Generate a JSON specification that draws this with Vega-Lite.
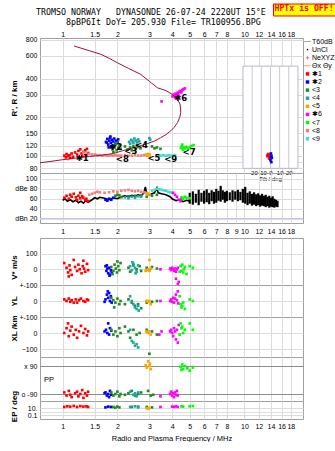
{
"$schema":"https://vega.github.io/schema/vega-lite/v6.json",
"padding":{"left":9,"top":3,"right":0,"bottom":0},
"title":{"text":"TROMSO NORWAY\u00a0\u00a0\u00a0DYNASONDE 26-07-24 2220UT 15°E","anchor":"start","frame":"group","dx":-4,"offset":-13.5},
"datasets":{
"prof":[{"f":0.75,"v":88},{"f":0.85,"v":90},{"f":1.0,"v":93},{"f":1.06,"v":94},{"f":1.2,"v":96},{"f":1.4,"v":98.5},{"f":1.62,"v":100.5},{"f":1.9,"v":104},{"f":2.27,"v":112},{"f":2.6,"v":118},{"f":2.92,"v":124},{"f":3.2,"v":130},{"f":3.46,"v":138},{"f":3.7,"v":146},{"f":3.93,"v":156},{"f":4.1,"v":166},{"f":4.28,"v":181},{"f":4.4,"v":198},{"f":4.46,"v":216},{"f":4.45,"v":235},{"f":4.42,"v":252},{"f":4.3,"v":272},{"f":4.01,"v":301},{"f":3.7,"v":322},{"f":3.32,"v":339},{"f":3.0,"v":380},{"f":2.69,"v":431},{"f":2.3,"v":480},{"f":2.0,"v":531},{"f":1.8,"v":576},{"f":1.62,"v":619},{"f":1.4,"v":660},{"f":1.154,"v":718}],
"H":[
{"c":"✱1","f":1.02,"v":100},{"c":"✱1","f":1.04,"v":97},{"c":"✱1","f":1.05,"v":103},{"c":"✱1","f":1.07,"v":99},{"c":"✱1","f":1.09,"v":101},{"c":"✱1","f":1.1,"v":96},{"c":"✱1","f":1.12,"v":104},{"c":"✱1","f":1.14,"v":98},{"c":"✱1","f":1.17,"v":106},{"c":"✱1","f":1.2,"v":102},{"c":"✱1","f":1.22,"v":109},{"c":"✱1","f":1.25,"v":112},{"c":"✱1","f":1.27,"v":104},{"c":"✱1","f":1.28,"v":99},{"c":"✱1","f":1.3,"v":107},{"c":"✱1","f":1.33,"v":110},{"c":"✱1","f":1.35,"v":101},{"c":"✱1","f":1.36,"v":113},{"c":"✱1","f":1.38,"v":105},
{"c":"<8","f":1.3,"v":106},{"c":"<8","f":1.35,"v":104},{"c":"<8","f":1.4,"v":103},{"c":"<8","f":1.45,"v":102},{"c":"<8","f":1.5,"v":102},{"c":"<8","f":1.55,"v":101},{"c":"<8","f":1.6,"v":101},{"c":"<8","f":1.65,"v":100},{"c":"<8","f":1.7,"v":101},{"c":"<8","f":1.75,"v":100},{"c":"<8","f":1.8,"v":100},{"c":"<8","f":1.85,"v":101},{"c":"<8","f":1.9,"v":100},{"c":"<8","f":1.95,"v":101},{"c":"<8","f":2.0,"v":100},{"c":"<8","f":2.05,"v":100},{"c":"<8","f":2.1,"v":100},{"c":"<8","f":2.2,"v":101},{"c":"<8","f":2.3,"v":100},{"c":"<8","f":2.4,"v":100},{"c":"<8","f":2.5,"v":101},{"c":"<8","f":2.6,"v":100},{"c":"<8","f":2.7,"v":100},{"c":"<8","f":2.8,"v":101},{"c":"<8","f":2.9,"v":100},
{"c":"<9","f":3.35,"v":100},{"c":"<9","f":3.45,"v":100},{"c":"<9","f":3.55,"v":101},{"c":"<9","f":3.65,"v":100},{"c":"<9","f":3.75,"v":100},{"c":"<9","f":3.85,"v":101},{"c":"<9","f":3.95,"v":100},{"c":"<9","f":4.05,"v":100},{"c":"<9","f":4.15,"v":101},
{"c":"✱2","f":1.73,"v":128},{"c":"✱2","f":1.76,"v":135},{"c":"✱2","f":1.78,"v":122},{"c":"✱2","f":1.8,"v":131},{"c":"✱2","f":1.82,"v":138},{"c":"✱2","f":1.84,"v":126},{"c":"✱2","f":1.86,"v":133},{"c":"✱2","f":1.88,"v":120},{"c":"✱2","f":1.9,"v":129},{"c":"✱2","f":1.92,"v":136},{"c":"✱2","f":1.95,"v":124},{"c":"✱2","f":1.97,"v":131},{"c":"✱2","f":2.0,"v":127},{"c":"✱2","f":1.79,"v":116},{"c":"✱2","f":1.85,"v":118},{"c":"✱2","f":2.02,"v":134},{"c":"✱2","f":1.75,"v":126},{"c":"✱2","f":1.83,"v":141},{"c":"✱2","f":1.93,"v":119},
{"c":"<3","f":1.88,"v":112},{"c":"<3","f":1.92,"v":118},{"c":"<3","f":1.95,"v":122},{"c":"<3","f":1.98,"v":110},{"c":"<3","f":2.02,"v":115},{"c":"<3","f":2.05,"v":120},{"c":"<3","f":2.08,"v":113},{"c":"<3","f":2.2,"v":118},{"c":"<3","f":2.28,"v":112},{"c":"<3","f":2.35,"v":116},{"c":"<3","f":2.45,"v":119},{"c":"<3","f":2.52,"v":113},{"c":"<3","f":2.6,"v":117},{"c":"<3","f":2.68,"v":114},{"c":"<3","f":3.1,"v":118},{"c":"<3","f":3.2,"v":114},{"c":"<3","f":3.3,"v":116},{"c":"<3","f":3.45,"v":113},{"c":"<3","f":2.0,"v":126},{"c":"<3","f":1.9,"v":107},{"c":"<3","f":2.4,"v":110},{"c":"<3","f":2.56,"v":121},
{"c":"<4","f":2.32,"v":128},{"c":"<4","f":2.38,"v":133},{"c":"<4","f":2.42,"v":130},{"c":"<4","f":2.48,"v":136},{"c":"<4","f":2.52,"v":131},{"c":"<4","f":2.56,"v":127},{"c":"<4","f":2.6,"v":134},{"c":"<4","f":2.64,"v":129},{"c":"<4","f":2.35,"v":124},{"c":"<4","f":3.0,"v":137},{"c":"<4","f":3.03,"v":133},{"c":"<4","f":2.45,"v":126},
{"c":"<5","f":2.88,"v":102},{"c":"<5","f":2.92,"v":101},{"c":"<5","f":2.96,"v":103},{"c":"<5","f":3.0,"v":100},{"c":"<5","f":3.02,"v":102},
{"c":"✱6","f":4.02,"v":290},{"c":"✱6","f":4.08,"v":300},{"c":"✱6","f":4.12,"v":295},{"c":"✱6","f":4.18,"v":305},{"c":"✱6","f":4.22,"v":298},{"c":"✱6","f":4.28,"v":310},{"c":"✱6","f":4.32,"v":302},{"c":"✱6","f":4.38,"v":315},{"c":"✱6","f":4.45,"v":320},{"c":"✱6","f":4.5,"v":312},{"c":"✱6","f":4.55,"v":325},{"c":"✱6","f":4.62,"v":330},{"c":"✱6","f":4.7,"v":335},{"c":"✱6","f":4.35,"v":292},{"c":"✱6","f":4.15,"v":285},{"c":"✱6","f":3.5,"v":265},{"c":"✱6","f":4.25,"v":282},
{"c":"<7","f":4.47,"v":115},{"c":"<7","f":4.52,"v":118},{"c":"<7","f":4.58,"v":113},{"c":"<7","f":4.65,"v":116},{"c":"<7","f":4.72,"v":114},{"c":"<7","f":4.8,"v":117},{"c":"<7","f":4.9,"v":113},{"c":"<7","f":5.0,"v":116},{"c":"<7","f":5.1,"v":119},{"c":"<7","f":5.25,"v":121},{"c":"<7","f":4.55,"v":122},{"c":"<7","f":4.6,"v":111},
{"c":"UnCl","f":1.22,"v":97},{"c":"UnCl","f":1.27,"v":100},{"c":"UnCl","f":1.31,"v":98},
{"c":"NeXYZ","f":1.07,"v":93},{"c":"NeXYZ","f":1.25,"v":94}],
"lab":[{"t":"✱1","f":1.28,"v":96},{"t":"✱2","f":1.96,"v":117},{"t":"<3","f":2.37,"v":109},{"t":"<4","f":2.71,"v":122},{"t":"<5","f":3.18,"v":95},{"t":"✱6","f":4.46,"v":283},{"t":"<7","f":4.96,"v":107},{"t":"<8","f":2.13,"v":94},{"t":"<9","f":3.93,"v":94}],
"tilt":[{"c":"✱1","t":-3,"v":99},{"c":"✱1","t":-2,"v":101},{"c":"✱1","t":-1,"v":97},{"c":"✱1","t":-3.5,"v":100},{"c":"✱1","t":-2.5,"v":103},{"c":"✱1","t":-1.5,"v":95},{"c":"✱2","t":0.5,"v":104},{"c":"✱2","t":1,"v":100},{"c":"✱2","t":1.5,"v":96},{"c":"✱2","t":0,"v":92},{"c":"✱2","t":1,"v":89},{"c":"✱2","t":0.5,"v":98}],
"dBl":[{"f":1.0,"v":57},{"f":1.03,"v":60},{"f":1.06,"v":55},{"f":1.1,"v":58},{"f":1.14,"v":54},{"f":1.18,"v":57},{"f":1.22,"v":52},{"f":1.26,"v":55},{"f":1.3,"v":51},{"f":1.34,"v":56},{"f":1.38,"v":53},{"f":1.45,"v":58},{"f":1.5,"v":62},{"f":1.55,"v":60},{"f":1.6,"v":63},{"f":1.7,"v":61},{"f":1.8,"v":58},{"f":1.9,"v":62},{"f":2.0,"v":60},{"f":2.1,"v":64},{"f":2.2,"v":66},{"f":2.3,"v":64},{"f":2.4,"v":67},{"f":2.5,"v":65},{"f":2.6,"v":68},{"f":2.7,"v":66},{"f":2.8,"v":72},{"f":2.85,"v":84},{"f":2.9,"v":70},{"f":3.0,"v":68},{"f":3.1,"v":70},{"f":3.2,"v":72},{"f":3.3,"v":82},{"f":3.35,"v":72},{"f":3.5,"v":70},{"f":3.7,"v":68},{"f":3.9,"v":64},{"f":4.0,"v":60},{"f":4.2,"v":56},{"f":4.4,"v":58},{"f":4.6,"v":54},{"f":4.8,"v":57},{"f":5.0,"v":55}],
"dBr":[{"f":5.0,"lo":50,"hi":72},{"f":5.2,"lo":48,"hi":75},{"f":5.4,"lo":52,"hi":70},{"f":5.6,"lo":47,"hi":78},{"f":5.8,"lo":54,"hi":72},{"f":6.0,"lo":50,"hi":76},{"f":6.2,"lo":53,"hi":79},{"f":6.4,"lo":49,"hi":72},{"f":6.6,"lo":55,"hi":77},{"f":6.8,"lo":50,"hi":74},{"f":7.0,"lo":52,"hi":80},{"f":7.2,"lo":56,"hi":76},{"f":7.4,"lo":54,"hi":86},{"f":7.6,"lo":58,"hi":77},{"f":7.8,"lo":52,"hi":74},{"f":8.0,"lo":55,"hi":76},{"f":8.3,"lo":57,"hi":73},{"f":8.6,"lo":54,"hi":77},{"f":8.9,"lo":58,"hi":75},{"f":9.2,"lo":55,"hi":78},{"f":9.5,"lo":57,"hi":74},{"f":9.8,"lo":52,"hi":80},{"f":10.1,"lo":50,"hi":84},{"f":10.4,"lo":47,"hi":72},{"f":10.7,"lo":50,"hi":75},{"f":11.0,"lo":46,"hi":70},{"f":11.3,"lo":48,"hi":73},{"f":11.6,"lo":45,"hi":69},{"f":11.9,"lo":47,"hi":71},{"f":12.2,"lo":44,"hi":67},{"f":12.5,"lo":46,"hi":70},{"f":12.8,"lo":45,"hi":66},{"f":13.1,"lo":43,"hi":68},{"f":13.4,"lo":45,"hi":64},{"f":13.7,"lo":42,"hi":66},{"f":14.0,"lo":44,"hi":62},{"f":14.3,"lo":43,"hi":65},{"f":14.6,"lo":42,"hi":60},{"f":14.9,"lo":44,"hi":58},{"f":15.2,"lo":43,"hi":56}],
"dB":[{"c":"✱1","f":1.02,"v":62},{"c":"✱1","f":1.05,"v":66},{"c":"✱1","f":1.08,"v":60},{"c":"✱1","f":1.1,"v":68},{"c":"✱1","f":1.12,"v":64},{"c":"✱1","f":1.15,"v":70},{"c":"✱1","f":1.18,"v":63},{"c":"✱1","f":1.2,"v":58},{"c":"✱1","f":1.22,"v":66},{"c":"✱1","f":1.25,"v":61},{"c":"✱1","f":1.28,"v":65},{"c":"✱1","f":1.3,"v":62},{"c":"✱1","f":1.33,"v":57},{"c":"✱1","f":1.35,"v":60},{"c":"✱1","f":1.38,"v":55},{"c":"✱1","f":1.25,"v":72},
{"c":"<8","f":1.4,"v":68},{"c":"<8","f":1.45,"v":70},{"c":"<8","f":1.5,"v":72},{"c":"<8","f":1.55,"v":74},{"c":"<8","f":1.6,"v":73},{"c":"<8","f":1.7,"v":72},{"c":"<8","f":1.8,"v":73},{"c":"<8","f":1.9,"v":75},{"c":"<8","f":2.0,"v":74},{"c":"<8","f":2.1,"v":76},{"c":"<8","f":2.2,"v":77},{"c":"<8","f":2.3,"v":78},{"c":"<8","f":2.4,"v":76},{"c":"<8","f":2.5,"v":75},{"c":"<8","f":2.6,"v":76},{"c":"<8","f":2.7,"v":74},{"c":"<8","f":2.8,"v":73},{"c":"<8","f":2.9,"v":72},
{"c":"✱2","f":1.72,"v":58},{"c":"✱2","f":1.76,"v":56},{"c":"✱2","f":1.8,"v":60},{"c":"✱2","f":1.85,"v":58},{"c":"✱2","f":1.9,"v":62},
{"c":"<3","f":1.95,"v":66},{"c":"<3","f":2.0,"v":68},{"c":"<3","f":2.05,"v":67},{"c":"<3","f":2.1,"v":63},{"c":"<3","f":2.3,"v":65},{"c":"<3","f":2.5,"v":66},{"c":"<3","f":2.7,"v":67},{"c":"<3","f":2.9,"v":64},{"c":"<3","f":3.1,"v":66},{"c":"<3","f":3.3,"v":68},
{"c":"<4","f":2.2,"v":63},{"c":"<4","f":2.3,"v":61},{"c":"<4","f":2.4,"v":64},{"c":"<4","f":2.5,"v":62},{"c":"<4","f":2.6,"v":65},{"c":"<4","f":2.7,"v":64},
{"c":"<5","f":2.9,"v":70},{"c":"<5","f":2.95,"v":71},{"c":"<5","f":3.0,"v":69},
{"c":"<9","f":3.1,"v":76},{"c":"<9","f":3.2,"v":78},{"c":"<9","f":3.3,"v":80},{"c":"<9","f":3.4,"v":79},{"c":"<9","f":3.5,"v":78},{"c":"<9","f":3.6,"v":77},{"c":"<9","f":3.7,"v":76},{"c":"<9","f":3.8,"v":74},{"c":"<9","f":3.9,"v":73},{"c":"<9","f":4.0,"v":72},
{"c":"✱6","f":4.05,"v":72},{"c":"✱6","f":4.15,"v":68},{"c":"✱6","f":4.25,"v":64},{"c":"✱6","f":4.35,"v":58},{"c":"✱6","f":4.45,"v":55},{"c":"✱6","f":4.5,"v":60},
{"c":"<7","f":4.5,"v":63},{"c":"<7","f":4.6,"v":60},{"c":"<7","f":4.7,"v":64},{"c":"<7","f":4.8,"v":62},{"c":"<7","f":5.0,"v":61}],
"VS":[{"c":"✱1","f":1.02,"v":40},{"c":"✱1","f":1.05,"v":10},{"c":"✱1","f":1.07,"v":-20},{"c":"✱1","f":1.09,"v":25},{"c":"✱1","f":1.1,"v":-5},{"c":"✱1","f":1.12,"v":-35},{"c":"✱1","f":1.17,"v":15},{"c":"✱1","f":1.2,"v":-10},{"c":"✱1","f":1.22,"v":30},{"c":"✱1","f":1.24,"v":0},{"c":"✱1","f":1.27,"v":-25},{"c":"✱1","f":1.29,"v":20},{"c":"✱1","f":1.31,"v":5},{"c":"✱1","f":1.33,"v":-15},{"c":"✱1","f":1.36,"v":35},{"c":"✱1","f":1.38,"v":-5},{"c":"✱1","f":1.15,"v":60},{"c":"✱1","f":1.3,"v":55},{"c":"✱1","f":1.08,"v":-45},
{"c":"✱2","f":1.72,"v":20},{"c":"✱2","f":1.74,"v":-10},{"c":"✱2","f":1.76,"v":5},{"c":"✱2","f":1.78,"v":-25},{"c":"✱2","f":1.8,"v":10},{"c":"✱2","f":1.82,"v":-35},{"c":"✱2","f":1.84,"v":-5},{"c":"✱2","f":1.86,"v":-20},{"c":"✱2","f":1.75,"v":25},{"c":"✱2","f":1.81,"v":-40},
{"c":"<3","f":1.85,"v":15},{"c":"<3","f":1.9,"v":-10},{"c":"<3","f":1.93,"v":30},{"c":"<3","f":1.96,"v":5},{"c":"<3","f":1.99,"v":-20},{"c":"<3","f":2.02,"v":20},{"c":"<3","f":2.05,"v":-5},{"c":"<3","f":2.08,"v":40},{"c":"<3","f":1.88,"v":-30},{"c":"<3","f":2.0,"v":50},{"c":"<3","f":2.3,"v":10},{"c":"<3","f":2.35,"v":-15},{"c":"<3","f":2.45,"v":25},{"c":"<3","f":2.55,"v":0},{"c":"<3","f":2.65,"v":20},{"c":"<3","f":2.7,"v":-10},{"c":"<3","f":2.9,"v":10},{"c":"<3","f":3.0,"v":-5},{"c":"<3","f":3.1,"v":15},{"c":"<3","f":3.3,"v":5},
{"c":"<4","f":2.35,"v":20},{"c":"<4","f":2.4,"v":-5},{"c":"<4","f":2.45,"v":35},{"c":"<4","f":2.5,"v":10},{"c":"<4","f":2.55,"v":-15},{"c":"<4","f":2.6,"v":25},{"c":"<4","f":2.42,"v":45},{"c":"<4","f":2.52,"v":-25},
{"c":"<5","f":2.86,"v":-10},{"c":"<5","f":2.9,"v":-5},{"c":"<5","f":2.95,"v":0},{"c":"<5","f":3.0,"v":-10},{"c":"<5","f":3.05,"v":5},{"c":"<5","f":3.0,"v":60},
{"c":"✱6","f":3.45,"v":0},{"c":"✱6","f":3.9,"v":5},{"c":"✱6","f":3.95,"v":-5},{"c":"✱6","f":4.0,"v":10},{"c":"✱6","f":4.05,"v":0},{"c":"✱6","f":4.1,"v":-10},{"c":"✱6","f":4.15,"v":5},{"c":"✱6","f":4.2,"v":-15},{"c":"✱6","f":4.25,"v":0},{"c":"✱6","f":4.3,"v":10},{"c":"✱6","f":4.3,"v":-95},{"c":"✱6","f":4.35,"v":-80},{"c":"✱6","f":4.2,"v":-60},
{"c":"<7","f":4.45,"v":20},{"c":"<7","f":4.5,"v":-10},{"c":"<7","f":4.55,"v":30},{"c":"<7","f":4.6,"v":-20},{"c":"<7","f":4.65,"v":0},{"c":"<7","f":4.7,"v":15},{"c":"<7","f":4.8,"v":-30},{"c":"<7","f":5.0,"v":20},{"c":"<7","f":5.2,"v":10},{"c":"<7","f":4.4,"v":-15}],
"YL":[{"c":"✱1","f":1.02,"v":10},{"c":"✱1","f":1.05,"v":0},{"c":"✱1","f":1.08,"v":15},{"c":"✱1","f":1.1,"v":-5},{"c":"✱1","f":1.12,"v":5},{"c":"✱1","f":1.18,"v":10},{"c":"✱1","f":1.2,"v":-10},{"c":"✱1","f":1.23,"v":5},{"c":"✱1","f":1.26,"v":15},{"c":"✱1","f":1.3,"v":0},{"c":"✱1","f":1.33,"v":-5},{"c":"✱1","f":1.36,"v":10},{"c":"✱1","f":1.38,"v":5},{"c":"✱1","f":1.15,"v":-10},
{"c":"✱2","f":1.72,"v":10},{"c":"✱2","f":1.75,"v":40},{"c":"✱2","f":1.78,"v":20},{"c":"✱2","f":1.8,"v":50},{"c":"✱2","f":1.82,"v":0},{"c":"✱2","f":1.84,"v":30},{"c":"✱2","f":1.86,"v":-10},{"c":"✱2","f":1.7,"v":-5},{"c":"✱2","f":1.77,"v":60},
{"c":"<3","f":1.85,"v":20},{"c":"<3","f":1.9,"v":5},{"c":"<3","f":1.95,"v":-10},{"c":"<3","f":2.0,"v":15},{"c":"<3","f":2.05,"v":-20},{"c":"<3","f":2.08,"v":0},{"c":"<3","f":1.92,"v":-40},{"c":"<3","f":2.3,"v":10},{"c":"<3","f":2.4,"v":-10},{"c":"<3","f":2.5,"v":-30},{"c":"<3","f":2.6,"v":-20},{"c":"<3","f":2.7,"v":-45},{"c":"<3","f":2.9,"v":-10},{"c":"<3","f":3.1,"v":-5},{"c":"<3","f":3.3,"v":0},{"c":"<3","f":2.2,"v":-20},
{"c":"<4","f":2.35,"v":30},{"c":"<4","f":2.4,"v":0},{"c":"<4","f":2.45,"v":-20},{"c":"<4","f":2.5,"v":-40},{"c":"<4","f":2.55,"v":-50},{"c":"<4","f":2.6,"v":-30},{"c":"<4","f":2.62,"v":-60},
{"c":"<5","f":2.88,"v":0},{"c":"<5","f":2.92,"v":0},{"c":"<5","f":2.96,"v":-5},{"c":"<5","f":3.0,"v":0},{"c":"<5","f":3.05,"v":-20},
{"c":"✱6","f":3.45,"v":0},{"c":"✱6","f":3.9,"v":0},{"c":"✱6","f":3.95,"v":10},{"c":"✱6","f":4.0,"v":-5},{"c":"✱6","f":4.05,"v":20},{"c":"✱6","f":4.1,"v":-10},{"c":"✱6","f":4.15,"v":15},{"c":"✱6","f":4.2,"v":40},{"c":"✱6","f":4.25,"v":5},{"c":"✱6","f":4.3,"v":60},{"c":"✱6","f":4.32,"v":-15},
{"c":"<7","f":4.45,"v":-20},{"c":"<7","f":4.5,"v":-40},{"c":"<7","f":4.55,"v":-30},{"c":"<7","f":4.6,"v":-10},{"c":"<7","f":4.7,"v":-50},{"c":"<7","f":5.0,"v":10},{"c":"<7","f":5.2,"v":0},{"c":"<7","f":4.4,"v":30}],
"XL":[{"c":"✱1","f":1.02,"v":0},{"c":"✱1","f":1.05,"v":30},{"c":"✱1","f":1.08,"v":-20},{"c":"✱1","f":1.1,"v":15},{"c":"✱1","f":1.12,"v":40},{"c":"✱1","f":1.15,"v":-10},{"c":"✱1","f":1.18,"v":20},{"c":"✱1","f":1.2,"v":-30},{"c":"✱1","f":1.23,"v":10},{"c":"✱1","f":1.26,"v":45},{"c":"✱1","f":1.3,"v":0},{"c":"✱1","f":1.33,"v":25},{"c":"✱1","f":1.36,"v":-15},{"c":"✱1","f":1.38,"v":10},{"c":"✱1","f":1.07,"v":60},
{"c":"✱2","f":1.7,"v":10},{"c":"✱2","f":1.73,"v":20},{"c":"✱2","f":1.76,"v":0},{"c":"✱2","f":1.8,"v":-10},{"c":"✱2","f":1.82,"v":30},{"c":"✱2","f":1.85,"v":15},{"c":"✱2","f":1.78,"v":60},
{"c":"<3","f":1.85,"v":20},{"c":"<3","f":1.9,"v":-10},{"c":"<3","f":1.95,"v":10},{"c":"<3","f":2.0,"v":-20},{"c":"<3","f":2.05,"v":30},{"c":"<3","f":2.08,"v":0},{"c":"<3","f":2.3,"v":10},{"c":"<3","f":2.35,"v":-30},{"c":"<3","f":2.45,"v":20},{"c":"<3","f":2.55,"v":-10},{"c":"<3","f":2.65,"v":0},{"c":"<3","f":2.9,"v":20},{"c":"<3","f":3.0,"v":-130},{"c":"<3","f":3.1,"v":10},{"c":"<3","f":3.3,"v":-10},{"c":"<3","f":2.2,"v":40},
{"c":"<4","f":2.45,"v":-60},{"c":"<4","f":2.5,"v":-80},{"c":"<4","f":2.55,"v":-70},{"c":"<4","f":2.6,"v":-90},{"c":"<4","f":2.4,"v":-50},{"c":"<4","f":2.35,"v":20},
{"c":"<5","f":2.88,"v":10},{"c":"<5","f":2.92,"v":5},{"c":"<5","f":2.96,"v":0},{"c":"<5","f":3.0,"v":10},{"c":"<5","f":3.05,"v":-10},
{"c":"✱6","f":3.4,"v":-10},{"c":"✱6","f":3.9,"v":10},{"c":"✱6","f":3.95,"v":20},{"c":"✱6","f":4.0,"v":0},{"c":"✱6","f":4.05,"v":-20},{"c":"✱6","f":4.1,"v":30},{"c":"✱6","f":4.15,"v":10},{"c":"✱6","f":4.2,"v":-40},{"c":"✱6","f":4.25,"v":20},{"c":"✱6","f":4.3,"v":-60},{"c":"✱6","f":4.35,"v":50},{"c":"✱6","f":3.5,"v":10},
{"c":"<7","f":4.45,"v":60},{"c":"<7","f":4.5,"v":30},{"c":"<7","f":4.55,"v":40},{"c":"<7","f":4.6,"v":0},{"c":"<7","f":4.7,"v":20},{"c":"<7","f":5.0,"v":60},{"c":"<7","f":5.2,"v":20},{"c":"<7","f":4.4,"v":-10}],
"PP":[{"c":"✱1","f":1.02,"v":-80},{"c":"✱1","f":1.05,"v":-100},{"c":"✱1","f":1.08,"v":-70},{"c":"✱1","f":1.1,"v":-95},{"c":"✱1","f":1.12,"v":-110},{"c":"✱1","f":1.17,"v":-85},{"c":"✱1","f":1.2,"v":-75},{"c":"✱1","f":1.22,"v":-105},{"c":"✱1","f":1.25,"v":-90},{"c":"✱1","f":1.28,"v":-65},{"c":"✱1","f":1.3,"v":-115},{"c":"✱1","f":1.33,"v":-85},{"c":"✱1","f":1.36,"v":-100},{"c":"✱1","f":1.38,"v":-75},
{"c":"✱2","f":1.72,"v":-80},{"c":"✱2","f":1.75,"v":-100},{"c":"✱2","f":1.78,"v":-90},{"c":"✱2","f":1.8,"v":-110},{"c":"✱2","f":1.82,"v":-70},{"c":"✱2","f":1.85,"v":-95},{"c":"✱2","f":1.7,"v":-85},
{"c":"<3","f":1.85,"v":-80},{"c":"<3","f":1.9,"v":-100},{"c":"<3","f":1.95,"v":-90},{"c":"<3","f":2.0,"v":-75},{"c":"<3","f":2.05,"v":-105},{"c":"<3","f":2.08,"v":-90},{"c":"<3","f":2.3,"v":-85},{"c":"<3","f":2.4,"v":-70},{"c":"<3","f":2.5,"v":-100},{"c":"<3","f":2.6,"v":-90},{"c":"<3","f":2.7,"v":-80},{"c":"<3","f":2.95,"v":-70},{"c":"<3","f":3.05,"v":-100},{"c":"<3","f":3.15,"v":-95},{"c":"<3","f":2.2,"v":-95},
{"c":"<4","f":2.35,"v":-75},{"c":"<4","f":2.45,"v":-95},{"c":"<4","f":2.5,"v":-85},{"c":"<4","f":2.55,"v":-105},{"c":"<4","f":2.6,"v":-80},
{"c":"✱6","f":3.45,"v":-105},{"c":"✱6","f":3.9,"v":-90},{"c":"✱6","f":3.95,"v":-75},{"c":"✱6","f":4.0,"v":-100},{"c":"✱6","f":4.05,"v":-85},{"c":"✱6","f":4.1,"v":-110},{"c":"✱6","f":4.15,"v":-80},{"c":"✱6","f":4.2,"v":-95},{"c":"✱6","f":4.25,"v":-70},{"c":"✱6","f":4.3,"v":-100},
{"c":"<5","f":2.86,"v":95},{"c":"<5","f":2.9,"v":80},{"c":"<5","f":2.95,"v":120},{"c":"<5","f":3.0,"v":90},{"c":"<5","f":3.05,"v":70},{"c":"<5","f":3.02,"v":105},
{"c":"<7","f":4.45,"v":85},{"c":"<7","f":4.5,"v":65},{"c":"<7","f":4.55,"v":100},{"c":"<7","f":4.6,"v":70},{"c":"<7","f":4.7,"v":90},{"c":"<7","f":4.85,"v":75},{"c":"<7","f":5.0,"v":60},{"c":"<7","f":5.2,"v":80}],
"EP":[{"c":"✱1","f":1.02,"v":20},{"c":"✱1","f":1.06,"v":30},{"c":"✱1","f":1.1,"v":25},{"c":"✱1","f":1.15,"v":40},{"c":"✱1","f":1.2,"v":20},{"c":"✱1","f":1.25,"v":35},{"c":"✱1","f":1.3,"v":25},{"c":"✱1","f":1.35,"v":30},{"c":"✱1","f":1.38,"v":20},
{"c":"✱2","f":1.72,"v":15},{"c":"✱2","f":1.78,"v":25},{"c":"✱2","f":1.84,"v":20},
{"c":"<3","f":1.9,"v":20},{"c":"<3","f":1.95,"v":12},{"c":"<3","f":2.0,"v":25},{"c":"<3","f":2.05,"v":15},{"c":"<3","f":2.4,"v":20},{"c":"<3","f":2.6,"v":25},{"c":"<3","f":2.9,"v":20},{"c":"<3","f":3.1,"v":15},
{"c":"<4","f":2.35,"v":20},{"c":"<4","f":2.5,"v":30},{"c":"<4","f":2.6,"v":15},
{"c":"<5","f":2.9,"v":8},{"c":"<5","f":2.95,"v":6},{"c":"<5","f":3.0,"v":10},
{"c":"✱6","f":3.45,"v":20},{"c":"✱6","f":4.0,"v":25},{"c":"✱6","f":4.1,"v":20},{"c":"✱6","f":4.2,"v":30},{"c":"✱6","f":4.3,"v":20},
{"c":"<7","f":4.5,"v":30},{"c":"<7","f":4.6,"v":25},{"c":"<7","f":5.0,"v":30},{"c":"<7","f":5.2,"v":35}]
},
"spacing":0,
"bounds":"flush",
"vconcat":[
{"width":263,"height":135,
 "title":{"text":"8pBP6It DoY= 205.930 File= TR100956.BPG","anchor":"start","frame":"group","dx":26,"offset":4},
 "encoding":{"y":{"field":"v","type":"quantitative","scale":{"type":"log","domain":[73.2,829],"nice":false},"axis":{"values":[80,90,100,120,150,200,300,400,600,800],"format":"d","grid":true,"title":"R', R / km","titleX":-26,"titleY":60,"titleBaseline":"middle","titleAngle":270}}},
 "layer":[
  {"encoding":{"x":{"field":"f","type":"quantitative","scale":{"type":"log","domain":[0.75,21],"nice":false},"axis":{"orient":"top","values":[1,1.5,2,3,4,5,6,7,8,10,12,14,16,18],"format":"~g","grid":true,"title":null,"labelPadding":1}}},
   "layer":[
    {"data":{"name":"H"},"mark":{"type":"point","filled":true,"size":7,"opacity":1},
     "encoding":{"color":{"field":"c","type":"nominal","scale":{"domain":["T60dB","UnCl","NeXYZ","Θx Θy","✱1","✱2","<3","<4","<5","✱6","<7","<8","<9"],"range":["#9a9a9a","#000000","#ff5f8f","#ff8080","#ff0000","#0000ff","#228b22","#1ca6a6","#ffa500","#ff00ff","#00ff00","#f08080","#40e0d0"]},"legend":{"title":null}},
       "shape":{"field":"c","type":"nominal","scale":{"domain":["T60dB","UnCl","NeXYZ","Θx Θy","✱1","✱2","<3","<4","<5","✱6","<7","<8","<9"],"range":["M-2,-0.25H2V0.25H-2Z","M-0.4,-0.4H0.4V0.4H-0.4Z","M-1,-0.25H1V0.25H-1Z M-0.25,-1H0.25V1H-0.25Z","M-2,-0.25H2V0.25H-2Z","square","square","square","square","square","square","square","square","square"]},"legend":{"title":null}}}},
    {"data":{"name":"prof"},"mark":{"type":"line","color":"#a0103c","strokeWidth":1},"encoding":{"order":{"value":null}}},
    {"data":{"name":"lab"},"mark":{"type":"text","fontSize":8.5,"font":"DejaVu Sans","fontWeight":"bold","color":"#000"},"encoding":{"text":{"field":"t"}}},
    {"data":{"values":[{"hp":"x","f":10,"v":100}]},"mark":{"type":"point","opacity":0},
     "encoding":{"strokeDash":{"field":"hp","type":"nominal","legend":{"title":"HPTx is OFF!","orient":"none","legendX":233,"legendY":-34.5,"direction":"vertical","titleOrient":"top","titleAnchor":"start","titleBaseline":"top","titleColor":"#ff0000","titleFont":"DejaVu Sans Mono","titleFontSize":8.2,"titleFontWeight":"bold","fillColor":"#ffff00","strokeColor":"#ff0000","padding":1.5,"labelExpr":"''","symbolSize":0,"symbolOffset":0,"labelOffset":0,"labelFontSize":1,"labelLimit":1,"columnPadding":0,"rowPadding":0,"titlePadding":0,"symbolStrokeWidth":0}}}}
   ]},
  {"encoding":{"x":{"field":"t","type":"quantitative","scale":{"domain":[-251.5,35.5],"nice":false,"zero":false},"axis":{"orient":"bottom","offset":-5,"values":[-20,-10,0,10,20],"title":"Tilt / deg","titleFontSize":6,"titleFontWeight":"normal","labelFontSize":6,"labelPadding":1,"titlePadding":0,"grid":false,"titleX":230,"labelOverlap":false}}},
   "layer":[
    {"data":{"values":[{"t":-30,"t2":30,"v":79.6,"v2":500}]},"mark":{"type":"rect","fill":"#ffffff","stroke":"#b8b8c8","strokeWidth":1},"encoding":{"x2":{"field":"t2"},"y2":{"field":"v2"}}},
    {"data":{"values":[{"t":-20,"v":79.6,"v2":500},{"t":-10,"v":79.6,"v2":500},{"t":0,"v":79.6,"v2":500},{"t":10,"v":79.6,"v2":500},{"t":20,"v":79.6,"v2":500}]},"mark":{"type":"rule","color":"#c8c8d4","strokeWidth":1},"encoding":{"y2":{"field":"v2"}}},
    {"data":{"name":"tilt"},"mark":{"type":"square","size":7,"opacity":1},
     "encoding":{"color":{"field":"c","type":"nominal","scale":{"domain":["T60dB","UnCl","NeXYZ","Θx Θy","✱1","✱2","<3","<4","<5","✱6","<7","<8","<9"],"range":["#9a9a9a","#000000","#ff5f8f","#ff8080","#ff0000","#0000ff","#228b22","#1ca6a6","#ffa500","#ff00ff","#00ff00","#f08080","#40e0d0"]},"legend":{"title":null}}}}
   ]}
 ],
 "resolve":{"scale":{"x":"independent"},"axis":{"x":"independent"}}
},
{"width":263,"height":50,
 "encoding":{"x":{"field":"f","type":"quantitative","scale":{"type":"log","domain":[0.75,21],"nice":false},"axis":{"values":[1,1.5,2,3,4,5,6,7,8,9,10,12,14,16,18],"format":"~g","grid":true,"title":null,"labelPadding":4}},
   "y":{"field":"v","type":"quantitative","scale":{"domain":[11,112],"nice":false,"zero":false},"axis":{"values":[20,40,60,80,100],"labelExpr":"datum.value==80?'dBe 80':datum.value==20?'dBn 20':datum.label","grid":true,"title":null}}},
 "layer":[
  {"data":{"values":[{"f":0.75,"f2":21,"v":20}]},"mark":{"type":"rule","color":"#c4c4f0"},"encoding":{"x2":{"field":"f2"}}},
  {"data":{"name":"dBl"},"mark":{"type":"line","color":"#000","strokeWidth":1.6}},
  {"data":{"name":"dBr"},"mark":{"type":"rule","color":"#000","strokeWidth":2.2},"encoding":{"y":{"field":"lo","type":"quantitative"},"y2":{"field":"hi"}}},
  {"data":{"name":"dB"},"mark":{"type":"point","filled":true,"size":7,"opacity":1},
   "encoding":{"color":{"field":"c","type":"nominal","scale":{"domain":["T60dB","UnCl","NeXYZ","Θx Θy","✱1","✱2","<3","<4","<5","✱6","<7","<8","<9"],"range":["#9a9a9a","#000000","#ff5f8f","#ff8080","#ff0000","#0000ff","#228b22","#1ca6a6","#ffa500","#ff00ff","#00ff00","#f08080","#40e0d0"]},"legend":{"title":null}},
     "shape":{"field":"c","type":"nominal","scale":{"domain":["T60dB","UnCl","NeXYZ","Θx Θy","✱1","✱2","<3","<4","<5","✱6","<7","<8","<9"],"range":["M-2,-0.25H2V0.25H-2Z","M-0.4,-0.4H0.4V0.4H-0.4Z","M-1,-0.25H1V0.25H-1Z M-0.25,-1H0.25V1H-0.25Z","M-2,-0.25H2V0.25H-2Z","square","square","square","square","square","square","square","square","square"]},"legend":{"title":null}}}}
 ]},
{"width":263,"height":15,"view":{"stroke":null},"data":{"values":[{"s":""}]},"mark":{"type":"text"},"encoding":{"text":{"field":"s"}}},
{"width":263,"height":47,"data":{"name":"VS"},"mark":{"type":"point","filled":true,"size":7,"opacity":1},
 "encoding":{"x":{"field":"f","type":"quantitative","scale":{"type":"log","domain":[0.75,21],"nice":false},"axis":{"values":[1,1.5,2,3,4,5,6,7,8,10,12,14,16,18],"labels":false,"grid":true,"title":null}},
  "y":{"field":"v","type":"quantitative","scale":{"domain":[-100,200],"nice":false,"zero":false},"axis":{"values":[100,0,-100],"labelExpr":"datum.value==-100?'+-100':datum.label","grid":true,"title":"V* m/s","titleX":-26,"titleY":29,"titleBaseline":"middle","titleAngle":270}},
  "color":{"field":"c","type":"nominal","scale":{"domain":["T60dB","UnCl","NeXYZ","Θx Θy","✱1","✱2","<3","<4","<5","✱6","<7","<8","<9"],"range":["#9a9a9a","#000000","#ff5f8f","#ff8080","#ff0000","#0000ff","#228b22","#1ca6a6","#ffa500","#ff00ff","#00ff00","#f08080","#40e0d0"]},"legend":{"title":null}},
  "shape":{"field":"c","type":"nominal","scale":{"domain":["T60dB","UnCl","NeXYZ","Θx Θy","✱1","✱2","<3","<4","<5","✱6","<7","<8","<9"],"range":["M-2,-0.25H2V0.25H-2Z","M-0.4,-0.4H0.4V0.4H-0.4Z","M-1,-0.25H1V0.25H-1Z M-0.25,-1H0.25V1H-0.25Z","M-2,-0.25H2V0.25H-2Z","square","square","square","square","square","square","square","square","square"]},"legend":{"title":null}}}},
{"width":263,"height":32,"data":{"name":"YL"},"mark":{"type":"point","filled":true,"size":7,"opacity":1},
 "encoding":{"x":{"field":"f","type":"quantitative","scale":{"type":"log","domain":[0.75,21],"nice":false},"axis":{"values":[1,1.5,2,3,4,5,6,7,8,10,12,14,16,18],"labels":false,"grid":true,"title":null}},
  "y":{"field":"v","type":"quantitative","scale":{"domain":[-100,100],"nice":false,"zero":false},"axis":{"values":[0,-100],"labelExpr":"datum.value==-100?'+-100':datum.label","grid":true,"title":"YL","titleX":-26,"titleY":16,"titleBaseline":"middle","titleAngle":270}},
  "color":{"field":"c","type":"nominal","scale":{"domain":["T60dB","UnCl","NeXYZ","Θx Θy","✱1","✱2","<3","<4","<5","✱6","<7","<8","<9"],"range":["#9a9a9a","#000000","#ff5f8f","#ff8080","#ff0000","#0000ff","#228b22","#1ca6a6","#ffa500","#ff00ff","#00ff00","#f08080","#40e0d0"]},"legend":{"title":null}},
  "shape":{"field":"c","type":"nominal","scale":{"domain":["T60dB","UnCl","NeXYZ","Θx Θy","✱1","✱2","<3","<4","<5","✱6","<7","<8","<9"],"range":["M-2,-0.25H2V0.25H-2Z","M-0.4,-0.4H0.4V0.4H-0.4Z","M-1,-0.25H1V0.25H-1Z M-0.25,-1H0.25V1H-0.25Z","M-2,-0.25H2V0.25H-2Z","square","square","square","square","square","square","square","square","square"]},"legend":{"title":null}}}},
{"width":263,"height":40,"data":{"name":"XL"},"mark":{"type":"point","filled":true,"size":7,"opacity":1},
 "encoding":{"x":{"field":"f","type":"quantitative","scale":{"type":"log","domain":[0.75,21],"nice":false},"axis":{"values":[1,1.5,2,3,4,5,6,7,8,10,12,14,16,18],"labels":false,"grid":true,"title":null}},
  "y":{"field":"v","type":"quantitative","scale":{"domain":[-150,100],"nice":false,"zero":false},"axis":{"values":[0,-100],"grid":true,"title":"XL  /km","titleX":-26,"titleY":11,"titleBaseline":"middle","titleAngle":270}},
  "color":{"field":"c","type":"nominal","scale":{"domain":["T60dB","UnCl","NeXYZ","Θx Θy","✱1","✱2","<3","<4","<5","✱6","<7","<8","<9"],"range":["#9a9a9a","#000000","#ff5f8f","#ff8080","#ff0000","#0000ff","#228b22","#1ca6a6","#ffa500","#ff00ff","#00ff00","#f08080","#40e0d0"]},"legend":{"title":null}},
  "shape":{"field":"c","type":"nominal","scale":{"domain":["T60dB","UnCl","NeXYZ","Θx Θy","✱1","✱2","<3","<4","<5","✱6","<7","<8","<9"],"range":["M-2,-0.25H2V0.25H-2Z","M-0.4,-0.4H0.4V0.4H-0.4Z","M-1,-0.25H1V0.25H-1Z M-0.25,-1H0.25V1H-0.25Z","M-2,-0.25H2V0.25H-2Z","square","square","square","square","square","square","square","square","square"]},"legend":{"title":null}}}},
{"width":263,"height":44,
 "encoding":{"x":{"field":"f","type":"quantitative","scale":{"type":"log","domain":[0.75,21],"nice":false},"axis":{"values":[1,1.5,2,3,4,5,6,7,8,10,12,14,16,18],"labels":false,"grid":true,"title":null}},
  "y":{"field":"v","type":"quantitative","scale":{"domain":[-135,148],"nice":false,"zero":false},"axis":{"values":[90,-90],"labelExpr":"datum.value==90?'x 90':'o -90'","grid":true,"gridColor":"#8c8c8c","title":null,"labelOverlap":false}}},
 "layer":[
  {"data":{"name":"PP"},"mark":{"type":"point","filled":true,"size":7,"opacity":1},
   "encoding":{"color":{"field":"c","type":"nominal","scale":{"domain":["T60dB","UnCl","NeXYZ","Θx Θy","✱1","✱2","<3","<4","<5","✱6","<7","<8","<9"],"range":["#9a9a9a","#000000","#ff5f8f","#ff8080","#ff0000","#0000ff","#228b22","#1ca6a6","#ffa500","#ff00ff","#00ff00","#f08080","#40e0d0"]},"legend":{"title":null}},
     "shape":{"field":"c","type":"nominal","scale":{"domain":["T60dB","UnCl","NeXYZ","Θx Θy","✱1","✱2","<3","<4","<5","✱6","<7","<8","<9"],"range":["M-2,-0.25H2V0.25H-2Z","M-0.4,-0.4H0.4V0.4H-0.4Z","M-1,-0.25H1V0.25H-1Z M-0.25,-1H0.25V1H-0.25Z","M-2,-0.25H2V0.25H-2Z","square","square","square","square","square","square","square","square","square"]},"legend":{"title":null}}}},
  {"data":{"values":[{"t":"PP","f":0.79,"v":0}]},"mark":{"type":"text","align":"left","fontSize":7.5,"font":"Liberation Sans","color":"#000"},"encoding":{"text":{"field":"t"}}}
 ]},
{"width":263,"height":18,"data":{"name":"EP"},"mark":{"type":"point","filled":true,"size":7,"opacity":1},
 "encoding":{"x":{"field":"f","type":"quantitative","scale":{"type":"log","domain":[0.75,21],"nice":false},"axis":{"values":[1,1.5,2,3,4,5,6,7,8,10,12,14,16,18],"format":"~g","grid":true,"title":"Radio and Plasma Frequency / MHz","titleFontWeight":"normal","titleFontSize":7.5,"labelPadding":3,"titlePadding":5}},
  "y":{"field":"v","type":"quantitative","scale":{"type":"log","domain":[0.0072,1000],"nice":false},"axis":{"values":[10,1,0.1],"labelExpr":"datum.value==10?'10.':datum.value==1?'':'0.1'","grid":true,"title":"EP / deg","titleX":-26,"titleY":5,"titleBaseline":"middle","titleAngle":270,"labelOverlap":false}},
  "color":{"field":"c","type":"nominal","scale":{"domain":["T60dB","UnCl","NeXYZ","Θx Θy","✱1","✱2","<3","<4","<5","✱6","<7","<8","<9"],"range":["#9a9a9a","#000000","#ff5f8f","#ff8080","#ff0000","#0000ff","#228b22","#1ca6a6","#ffa500","#ff00ff","#00ff00","#f08080","#40e0d0"]},"legend":{"title":null}},
  "shape":{"field":"c","type":"nominal","scale":{"domain":["T60dB","UnCl","NeXYZ","Θx Θy","✱1","✱2","<3","<4","<5","✱6","<7","<8","<9"],"range":["M-2,-0.25H2V0.25H-2Z","M-0.4,-0.4H0.4V0.4H-0.4Z","M-1,-0.25H1V0.25H-1Z M-0.25,-1H0.25V1H-0.25Z","M-2,-0.25H2V0.25H-2Z","square","square","square","square","square","square","square","square","square"]},"legend":{"title":null}}}}
],
"config":{
 "font":"Liberation Sans",
 "view":{"stroke":"#a0a0a0"},
 "axis":{"labelFont":"Liberation Sans","labelFontSize":7,"labelColor":"#000","titleFont":"Liberation Sans","titleFontSize":8,"titleFontWeight":"bold","titleColor":"#000","gridColor":"#dcdcdc","domain":false,"ticks":false,"labelPadding":3},
 "legend":{"orient":"right","offset":0,"padding":0,"rowPadding":0.1,"symbolSize":12,"labelFontSize":7,"labelFont":"Liberation Sans","labelOffset":1,"symbolStrokeWidth":0,"labelColor":"#000"},
 "title":{"font":"DejaVu Sans Mono","fontSize":8.3,"fontWeight":"normal","color":"#000"}
}
}
